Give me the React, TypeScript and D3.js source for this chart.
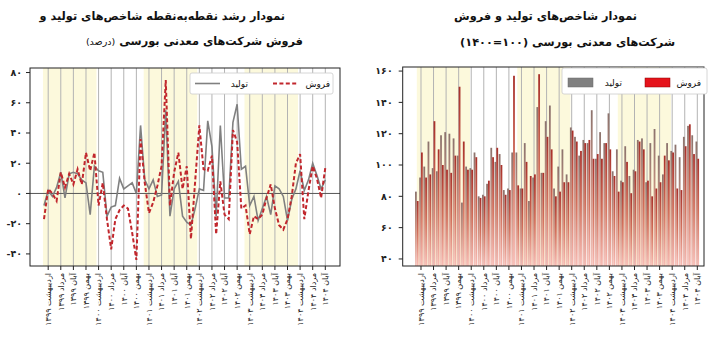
import React from "react";
import * as d3 from "d3";

// ---------- data ----------
const TICK_LABELS = [
  "اردیبهشت ۱۳۹۹", "مرداد ۱۳۹۹", "آبان ۱۳۹۹", "بهمن ۱۳۹۹",
  "اردیبهشت ۱۴۰۰", "مرداد ۱۴۰۰", "آبان ۱۴۰۰", "بهمن ۱۴۰۰",
  "اردیبهشت ۱۴۰۱", "مرداد ۱۴۰۱", "آبان ۱۴۰۱", "بهمن ۱۴۰۱",
  "اردیبهشت ۱۴۰۲", "مرداد ۱۴۰۲", "آبان ۱۴۰۲", "بهمن ۱۴۰۲",
  "اردیبهشت ۱۴۰۳", "مرداد ۱۴۰۳", "آبان ۱۴۰۳", "بهمن ۱۴۰۳",
  "اردیبهشت ۱۴۰۴", "مرداد ۱۴۰۴", "آبان ۱۴۰۴",
];
const FIRST_TICK = 1;
const TICK_STEP = 3;
const SHADED_YEARS = [0, 2, 4]; // 1399, 1401, 1403

// point-to-point growth (%)
const PROD_GROWTH = [
  -8, 2, -2, 4, 14, -3, 13, 14, 13, 9, 7, -14,
  18, 15, 14, -15, -9, -8, 10, 3, 5, 7, 0, 45,
  9, 3, 9, -2, -1, 55, -15, 3, 8, -15, -19, -21,
  -10, 3, 2, 48, 31, -15, 45, -3, -3, 47, 59, 16,
  18, -8, -2, -18, -10, -2, -14, 5, 3, -2, -18, -4,
  3, 15, 2, 9, 20, 12, 3, 9,
];
const SALES_GROWTH = [
  -17, 3, 0, -5, 14, 4, 13, 6, 16, 6, 27, 15,
  27, -8, 7, -17, -37, -17, -11, -8, -10, -26, -44, 36,
  7, -13, -6, 5, 18, 75, -8, 14, 27, 3, 18, -30,
  8, 45, 16, 15, 25, -27, 8, -14, -17, 42, 34, -10,
  -8, -27, -15, -17, -14, -3, 6, -10, -21, -24, -17, -2,
  20, 26, -17, 2, 18, 10, -3, 17,
];

// index (1400 = 100)
const PROD_INDEX = [
  83, 92, 99, 115, 98, 96, 119, 121, 120, 117, 106, 76,
  99, 98, 108, 80, 81, 88, 111, 102, 107, 84, 85, 108,
  108, 85, 114, 77, 92, 137, 95, 128, 138, 85, 99, 110,
  94, 124, 118, 106, 116, 114, 135, 104, 121, 114, 133, 96,
  110, 90, 112, 93, 97, 116, 117, 89, 114, 123, 106, 94,
  114, 109, 113, 105, 118, 125, 119, 115,
];
const SALES_INDEX = [
  77, 108, 92, 94, 128, 110, 100, 97, 95, 106, 150, 115,
  97, 97, 105, 79, 80, 90, 105, 111, 100, 81, 84, 157,
  87, 85, 102, 93, 94, 158, 95, 118, 110, 80, 83, 89,
  89, 122, 115, 109, 114, 116, 104, 107, 104, 114, 110, 93,
  83, 89, 102, 82, 96, 115, 110, 90, 80, 85, 89, 106,
  103, 108, 85, 84, 112, 126, 107, 104,
];

const LEFT_Y_TICKS = [-40, -20, 0, 20, 40, 60, 80];
const RIGHT_Y_TICKS = [40, 60, 80, 100, 120, 140, 160];

const LEGEND_PROD = "تولید";
const LEGEND_SALES = "فروش";

// ---------- helpers ----------
const FA = "۰۱۲۳۴۵۶۷۸۹";
const toFa = (n: number) => {
  const s = String(Math.abs(n)).replace(/\d/g, (d) => FA[+d]);
  return n < 0 ? "-" + s : s;
};
const FONT = "'DejaVu Sans', sans-serif";
const N = SALES_GROWTH.length;
const tickIdx = TICK_LABELS.map((_, k) => FIRST_TICK + k * TICK_STEP);

export default function App() {
  // left panel geometry
  const L = { l: 30, r: 340, t: 68, b: 266 };
  const xL = d3.scaleLinear().domain([0, N - 1]).range([44, 325.3]);
  const yL = d3.scaleLinear().domain([-48, 83]).range([L.b, L.t]);

  // right panel geometry
  const R = { l: 402.7, r: 704, t: 67, b: 266 };
  const xR = d3.scaleLinear().domain([0, N - 1]).range([416.8, 697.3]);
  const yR = d3.scaleLinear().domain([35.5, 162.6]).range([R.b, R.t]);

  const lineL = d3.line<number>().x((_, i) => xL(i)).y((d) => yL(d));

  const bw = 1.8;

  const xLabel = (x: number, y: number, s: string, k: number) => (
    <text
      key={k}
      transform={`translate(${x},${y}) rotate(-90)`}
      textAnchor="end"
      dy="0.35em"
      fontSize={8}
      letterSpacing={1}
      fontFamily={FONT}
      fill="#222"
    >
      {s}
    </text>
  );

  return (
    <svg
      width={720}
      height={358}
      style={{ position: "absolute", left: 0, top: 0, background: "#fff" }}
    >
      <defs>
        <linearGradient id="gRed" x1="0" y1="0" x2="0" y2="1">
          <stop offset="0" stopColor="#a8302a" />
          <stop offset="0.5" stopColor="#d2705c" />
          <stop offset="1" stopColor="#f8bcb5" />
        </linearGradient>
        <linearGradient id="gGray" x1="0" y1="0" x2="0" y2="1">
          <stop offset="0" stopColor="#8c736d" />
          <stop offset="0.5" stopColor="#cc9282" />
          <stop offset="1" stopColor="#f5c5bd" />
        </linearGradient>
        <clipPath id="clipL">
          <rect x={L.l} y={L.t} width={L.r - L.l} height={L.b - L.t} />
        </clipPath>
        <clipPath id="clipR">
          <rect x={R.l} y={R.t} width={R.r - R.l} height={R.b - R.t} />
        </clipPath>
      </defs>

      {/* ---------- titles ---------- */}
      <g fontFamily={FONT} fontWeight="bold" fill="#111">
        <text x={285} y={20} direction="rtl" textAnchor="start" fontSize={11.3}>
          نمودار رشد نقطه‌به‌نقطه شاخص‌های تولید و
        </text>
        <text x={303} y={45} direction="rtl" textAnchor="start" fontSize={11.3}>
          فروش شرکت‌های معدنی بورسی{" "}
          <tspan fontWeight="normal" fontSize={9.5}>(درصد)</tspan>
        </text>
        <text x={637} y={20} direction="rtl" textAnchor="start" fontSize={11.3}>
          نمودار شاخص‌های تولید و فروش
        </text>
        <text x={675} y={46} direction="rtl" textAnchor="start" fontSize={11.3}>
          شرکت‌های معدنی بورسی (۱۰۰=۱۴۰۰)
        </text>
      </g>

      {/* ---------- LEFT PANEL ---------- */}
      <g>
        {SHADED_YEARS.map((k) => (
          <rect
            key={k}
            x={xL(12 * k - 0.25)}
            y={L.t}
            width={xL(12 * k + 12.5) - xL(12 * k - 0.25)}
            height={L.b - L.t}
            fill="#fcf9dc"
          />
        ))}
        {tickIdx.map((i) => (
          <line key={i} x1={xL(i)} x2={xL(i)} y1={L.t} y2={L.b} stroke="#b3b3b3" strokeWidth={1} />
        ))}
        <line x1={L.l} x2={L.r} y1={yL(0)} y2={yL(0)} stroke="#555" strokeWidth={1} />
        <g clipPath="url(#clipL)">
          <path d={lineL(PROD_GROWTH) || ""} fill="none" stroke="#808080" strokeWidth={1.6} />
          <path
            d={lineL(SALES_GROWTH) || ""}
            fill="none"
            stroke="#c1272d"
            strokeWidth={2}
            strokeDasharray="4,2.4"
          />
        </g>
        <rect x={L.l} y={L.t} width={L.r - L.l} height={L.b - L.t} fill="none" stroke="#222" strokeWidth={1} />
        {/* y axis */}
        {LEFT_Y_TICKS.map((v) => (
          <g key={v}>
            <line x1={L.l - 4} x2={L.l} y1={yL(v)} y2={yL(v)} stroke="#222" />
            <text x={L.l - 8} y={yL(v)} dy="0.35em" textAnchor="end" fontSize={9.5} fontWeight="bold" fontFamily={FONT} fill="#222">
              {toFa(v)}
            </text>
          </g>
        ))}
        {/* x axis */}
        {tickIdx.map((i, k) => (
          <g key={i}>
            <line x1={xL(i)} x2={xL(i)} y1={L.b} y2={L.b + 4} stroke="#222" />
            {xLabel(xL(i), L.b + 7, TICK_LABELS[k], k)}
          </g>
        ))}
        {/* legend */}
        <rect x={190} y={73} width={143} height={21} rx={2} fill="#fff" stroke="#ccc" strokeWidth={0.8} />
        <line x1={195} x2={220} y1={83.5} y2={83.5} stroke="#808080" strokeWidth={1.6} />
        <text x={248} y={83.5} dy="0.35em" textAnchor="end" fontSize={9} fontFamily={FONT} fill="#111">
          {LEGEND_PROD}
        </text>
        <line x1={273} x2={297} y1={83.5} y2={83.5} stroke="#c1272d" strokeWidth={2} strokeDasharray="4,2.4" />
        <text x={330} y={83.5} dy="0.35em" textAnchor="end" fontSize={9} fontFamily={FONT} fill="#111">
          {LEGEND_SALES}
        </text>
      </g>

      {/* ---------- RIGHT PANEL ---------- */}
      <g>
        {SHADED_YEARS.map((k) => (
          <rect
            key={k}
            x={xR(12 * k)}
            y={R.t}
            width={xR(12 * k + 12.7) - xR(12 * k)}
            height={R.b - R.t}
            fill="#fcf9dc"
          />
        ))}
        {tickIdx.map((i) => (
          <line key={i} x1={xR(i)} x2={xR(i)} y1={R.t} y2={R.b} stroke="#b3b3b3" strokeWidth={1} />
        ))}
        <g clipPath="url(#clipR)">
          {PROD_INDEX.map((v, i) => (
            <rect key={"p" + i} x={xR(i) - bw} y={yR(v)} width={bw} height={R.b - yR(v)} fill="url(#gGray)" />
          ))}
          {SALES_INDEX.map((v, i) => (
            <rect key={"s" + i} x={xR(i)} y={yR(v)} width={bw} height={R.b - yR(v)} fill="url(#gRed)" />
          ))}
        </g>
        <rect x={R.l} y={R.t} width={R.r - R.l} height={R.b - R.t} fill="none" stroke="#222" strokeWidth={1} />
        {RIGHT_Y_TICKS.map((v) => (
          <g key={v}>
            <line x1={R.l - 4} x2={R.l} y1={yR(v)} y2={yR(v)} stroke="#222" />
            <text x={R.l - 10} y={yR(v)} dy="0.35em" textAnchor="end" fontSize={9.5} fontWeight="bold" fontFamily={FONT} fill="#222">
              {toFa(v)}
            </text>
          </g>
        ))}
        {tickIdx.map((i, k) => (
          <g key={i}>
            <line x1={xR(i)} x2={xR(i)} y1={R.b} y2={R.b + 4} stroke="#222" />
            {xLabel(xR(i), R.b + 7, TICK_LABELS[k], k)}
          </g>
        ))}
        {/* legend */}
        <rect x={562} y={68} width={145} height={26} rx={2} fill="#fff" stroke="#ccc" strokeWidth={0.8} />
        <rect x={568} y={78} width={25} height={9} fill="#808080" stroke="#6a6a6a" strokeWidth={0.5} />
        <text x={622} y={82.5} dy="0.35em" textAnchor="end" fontSize={9} fontFamily={FONT} fill="#111">
          {LEGEND_PROD}
        </text>
        <rect x={645} y={78} width={25} height={9} fill="#e5131b" stroke="#8b0000" strokeWidth={0.5} />
        <text x={701} y={82.5} dy="0.35em" textAnchor="end" fontSize={9} fontFamily={FONT} fill="#111">
          {LEGEND_SALES}
        </text>
      </g>
    </svg>
  );
}
